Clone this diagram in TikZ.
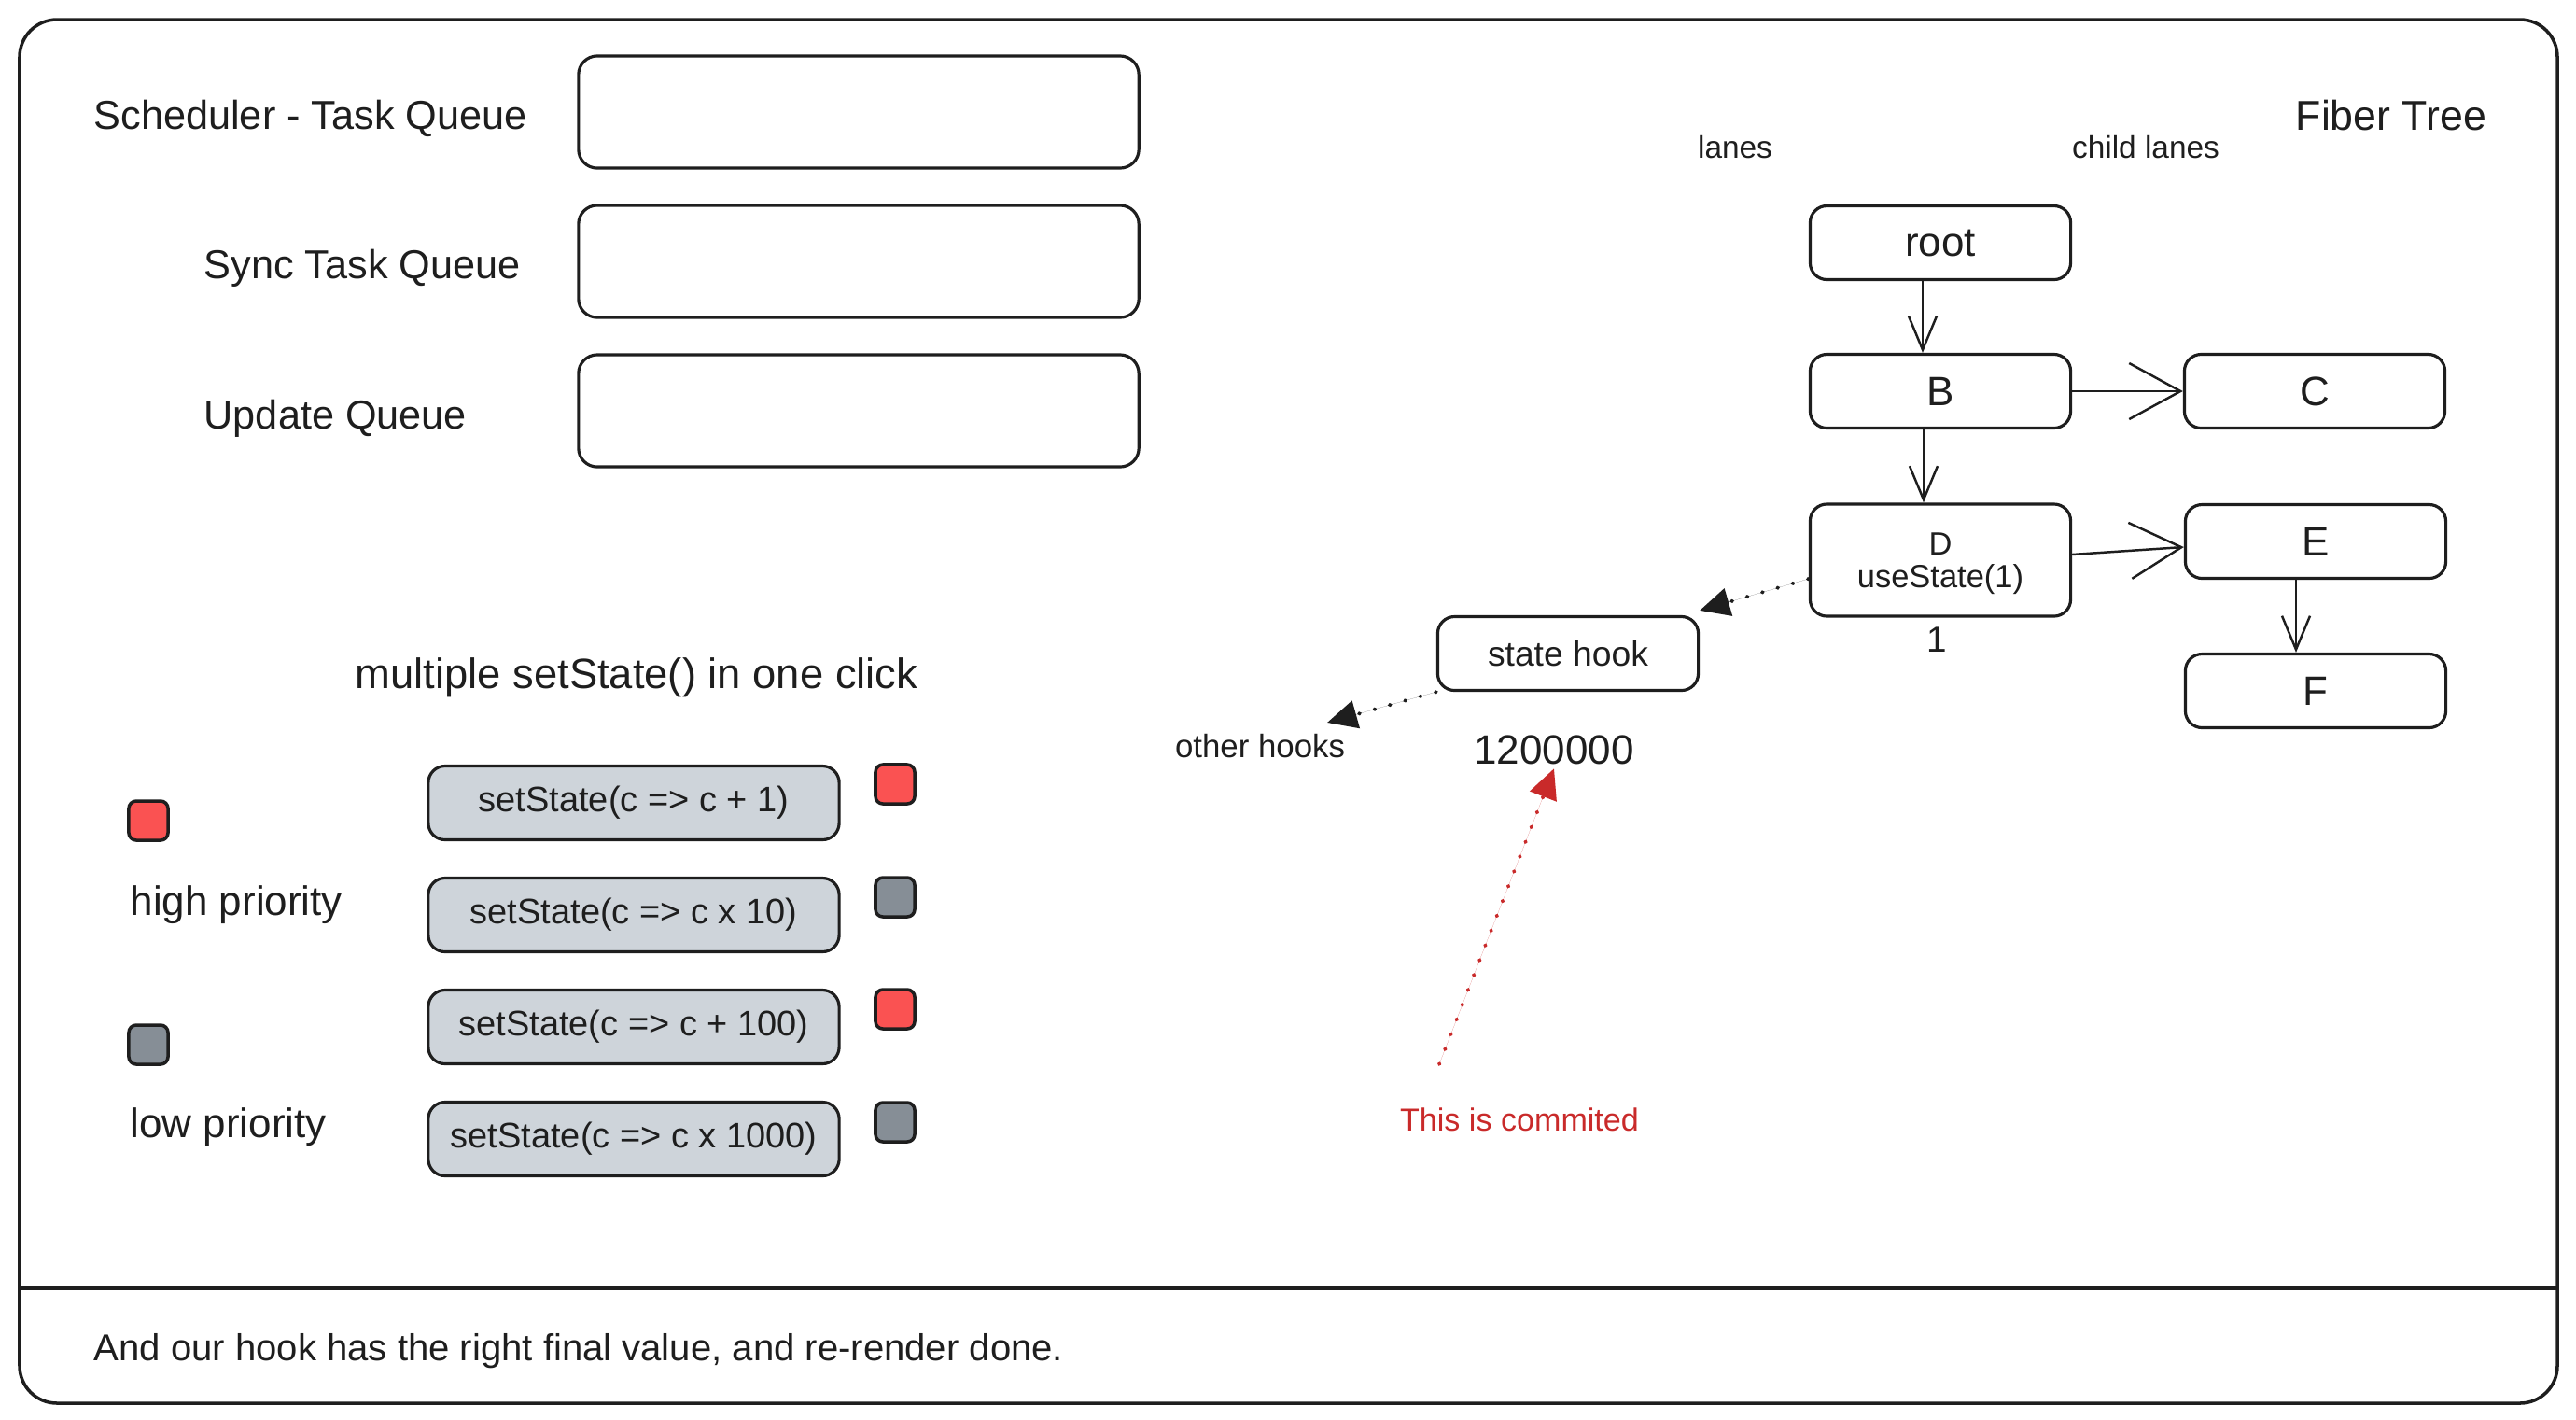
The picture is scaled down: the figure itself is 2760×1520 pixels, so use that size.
\documentclass[tikz,border=0pt]{standalone}
\usepackage{fontspec}
\setmainfont{Liberation Sans}
\usetikzlibrary{arrows.meta}

\definecolor{ink}{HTML}{1E1E1E}
\definecolor{boxgray}{HTML}{CED4DA}
\definecolor{hired}{HTML}{FA5252}
\definecolor{logray}{HTML}{868E96}
\definecolor{notered}{HTML}{C92A2A}

\newcommand\txtsize[1]{\fontsize{#1}{#1}\selectfont}

\tikzset{
  frame/.style={draw=ink, line width=1pt, rounded corners=0.4cm},
  lbl/.style={inner sep=0pt, text=ink},
  qbox/.style={draw=ink, line width=0.9pt, rounded corners=0.2cm,
    minimum width=6cm, minimum height=1.2cm},
  fiber/.style={draw=ink, line width=0.9pt, rounded corners=0.18cm,
    minimum width=2.79cm, minimum height=0.79cm, text=ink},
  ssbox/.style={draw=ink, fill=boxgray, line width=0.9pt, rounded corners=0.18cm,
    minimum width=4.4cm, minimum height=0.79cm, text=ink,
    font=\txtsize{10.8pt}},
  chip/.style={draw=ink, line width=1pt, rounded corners=0.08cm,
    minimum size=0.42cm, inner sep=0pt},
  link/.style={draw=ink, line width=0.7pt},
  vlink/.style={link, -{Straight Barb[length=0.36cm, width=0.3cm]}},
  hlink/.style={link, -{Straight Barb[length=0.55cm, width=0.6cm]}},
  dotlink/.style={line width=1.1pt, line cap=round,
    dash pattern=on 0.01cm off 0.16cm,
    -{Triangle[length=0.32cm, width=0.3cm]}},
}

\begin{document}
\begin{tikzpicture}[x=0.01cm, y=-0.01cm]
\useasboundingbox (0,0) rectangle (2760,1520);

% outer card and footer divider
\draw[frame] (21,21) rectangle (2740,1503);
\draw[draw=ink, line width=1pt] (21,1380) -- (2740,1380);
\node[lbl, anchor=west, font=\txtsize{11.4pt}] (foot) at (100,1447)
  {And our hook has the right final value, and re-render done.};

% queues
\node[lbl, anchor=west, font=\txtsize{12.3pt}] (lsched) at (100,127) {Scheduler - Task Queue};
\node[lbl, anchor=west, font=\txtsize{12.3pt}] (lsync) at (218,287) {Sync Task Queue};
\node[lbl, anchor=west, font=\txtsize{12.3pt}] (lupd) at (218,448) {Update Queue};
\node[qbox] (qsched) at (920,120) {};
\node[qbox] (qsync) at (920,280) {};
\node[qbox] (qupd) at (920,440) {};

% batched updates
\node[lbl, anchor=west, font=\txtsize{12.9pt}] (multi) at (380,726) {multiple setState() in one click};
\node[ssbox] (s1) at (679,860) {setState(c => c + 1)};
\node[ssbox] (s2) at (679,980) {setState(c => c x 10)};
\node[ssbox] (s3) at (679,1100) {setState(c => c + 100)};
\node[ssbox] (s4) at (679,1220) {setState(c => c x 1000)};
\node[chip, fill=hired] (c1) at (959,840) {};
\node[chip, fill=logray] (c2) at (959,961) {};
\node[chip, fill=hired] (c3) at (959,1081) {};
\node[chip, fill=logray] (c4) at (959,1202) {};

% legend
\node[chip, fill=hired] (khi) at (159,879) {};
\node[chip, fill=logray] (klo) at (159,1119) {};
\node[lbl, anchor=west, font=\txtsize{12.5pt}] (lhi) at (139,969) {high priority};
\node[lbl, anchor=west, font=\txtsize{12.5pt}] (llo) at (139,1207) {low priority};

% fiber tree
\node[lbl, anchor=west, font=\txtsize{12.7pt}] (ftitle) at (2459,124) {Fiber Tree};
\node[lbl, font=\txtsize{9.5pt}] (llanes) at (1859,158) {lanes};
\node[lbl, font=\txtsize{9.5pt}] (lchild) at (2299,158) {child lanes};
\node[fiber, font=\txtsize{12.5pt}] (root) at (2079,260) {root};
\node[fiber, font=\txtsize{12.5pt}] (B) at (2079,419) {B};
\node[fiber, font=\txtsize{12.5pt}] (C) at (2480,419) {C};
\node[fiber, minimum height=1.2cm, align=center, font=\txtsize{9.8pt}, text depth=0pt]
  (D) at (2079,600) {\fontsize{9.8pt}{12pt}\selectfont D\\useState(1)};
\node[fiber, font=\txtsize{12.5pt}] (E) at (2481,580) {E};
\node[fiber, font=\txtsize{12.5pt}] (F) at (2481,740) {F};
\node[lbl, font=\txtsize{11pt}] (dval) at (2075,685) {1};

\draw[vlink] ([xshift=-0.19cm]root.south) -- ([xshift=-0.19cm]B.north);
\draw[vlink] ([xshift=-0.18cm]B.south) -- ([xshift=-0.18cm]D.north);
\draw[vlink] ([xshift=-0.21cm]E.south) -- ([xshift=-0.21cm]F.north);
\draw[hlink] (B.east) -- (C.west);
\draw[hlink] ([yshift=0.06cm]D.east) -- ([yshift=-0.06cm]E.west);

% hook list
\node[fiber, font=\txtsize{10.6pt}] (sh) at (1680,700) {state hook};
\node[lbl, font=\txtsize{12.5pt}] (val) at (1665,803) {1200000};
\node[lbl, font=\txtsize{9.9pt}] (oh) at (1350,799) {other hooks};
\node[lbl, text=notered, font=\txtsize{9.7pt}] (commit) at (1628,1199) {This is commited};
\coordinate (ohtip) at (1422,774);
\coordinate (cmtail) at (1542,1140);

\draw[dotlink, draw=ink, fill=ink] ([yshift=-0.2cm]D.west) -- ([yshift=0.05cm]sh.north east);
\draw[dotlink, draw=ink, fill=ink] (sh.south west) -- (ohtip);
\draw[dotlink, draw=notered, fill=notered] (cmtail) -- ([yshift=-0.04cm]val.south);
\end{tikzpicture}
\end{document}
